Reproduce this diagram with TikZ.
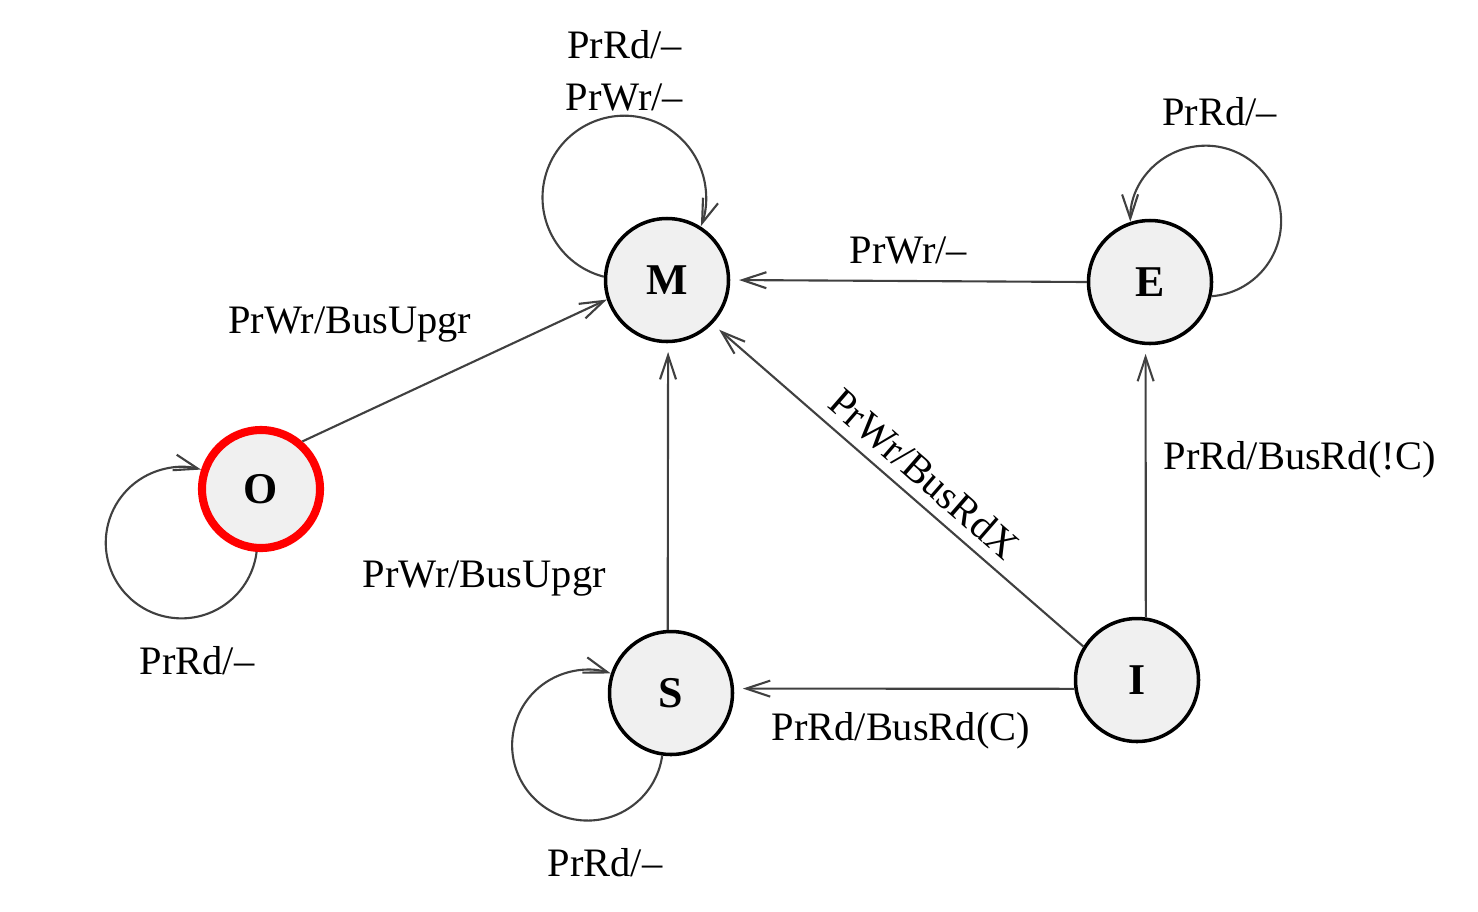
\documentclass[tikz,border=0pt]{standalone}
\usepackage{fontspec}
\setmainfont{Liberation Serif}
\usepackage{tikz}
\usetikzlibrary{positioning, arrows.meta}

\begin{document}
\begin{tikzpicture}[
        state/.style={circle, draw, line width=1pt, fill=black!6, minimum size=1.23cm, inner sep=0pt, font=\fontsize{12.5}{14}\selectfont\bfseries},
        trans/.style={draw=black!75, line width=0.6pt, -{Straight Barb[length=2.4mm, width=1.6mm]}, shorten >=2.5pt},
        lbl/.style={font=\fontsize{11.5}{14.8}\selectfont, inner sep=1pt}
    ]
        \useasboundingbox (0,0) rectangle (14.78,9.11);

        \node[state] (M) at (6.67,6.31) {M};
        \node[state] (E) at (11.50,6.29) {E};
        \node[state, draw=red, line width=2.3pt, minimum size=1.18cm] (O) at (2.61,4.22) {O};
        \node[state] (S) at (6.71,2.18) {S};
        \node[state] (I) at (11.37,2.31) {I};

        \draw[trans] (E.west) -- node[lbl, above=0.125cm] {PrWr/\textendash} (M.east);
        \draw[trans, shorten >=0pt] (O.49) -- node[lbl, pos=0.57, above left=0.14cm and 0cm] {PrWr/BusUpgr} (M.198);
        \draw[trans] (S.93) -- node[lbl, pos=0.18, left=0.575cm] {PrWr/BusUpgr} (M.271);
        \draw[trans] (I.148) -- node[lbl, pos=0.475, sloped, above=0.07cm] {PrWr/BusRdX} (M.-44);
        \draw[trans] (I.188) -- node[lbl, pos=0.51, below=0.195cm] {PrRd/BusRd(C)} (S.4);
        \draw[trans] (I.82) -- node[lbl, pos=0.58, right=0.135cm] {PrRd/BusRd(!C)} (E.266);

        \draw[trans, shorten >=0pt] (M.177) arc[start angle=255.5, end angle=-20.5, radius=0.818cm]
            node[lbl, pos=0.6, above, align=center] {PrRd/\textendash\\PrWr/\textendash};
        \draw[trans, shorten >=0pt] (E.-13) arc[start angle=-85.5, end angle=180.5, radius=0.754cm]
            node[lbl, pos=0.62, above=0.165cm] {PrRd/\textendash};
        \draw[trans, shorten >=0pt] (O.266) arc[start angle=353, end angle=75, radius=0.757cm]
            node[lbl, pos=0.256, below=0.25cm] {PrRd/\textendash};
        \draw[trans, shorten >=0pt] (S.262) arc[start angle=352, end angle=72, radius=0.754cm]
            node[lbl, pos=0.245, below=0.25cm] {PrRd/\textendash};
    \end{tikzpicture}
\end{document}
